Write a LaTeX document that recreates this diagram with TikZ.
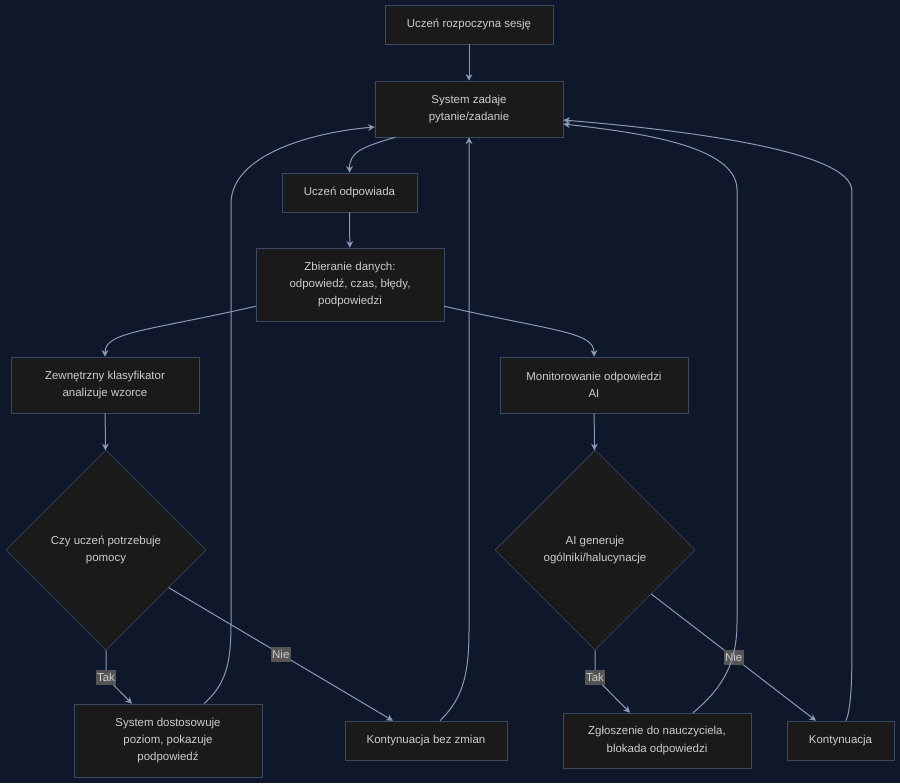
\documentclass[tikz,border=0pt]{standalone}
\usepackage{fontspec}
\setmainfont{Liberation Sans}
\usepackage{xcolor}
\usetikzlibrary{arrows.meta,shapes.geometric}

\definecolor{bgnavy}{HTML}{0F172A}
\definecolor{boxfill}{HTML}{1A1A1A}
\definecolor{boxline}{HTML}{3B4A63}
\definecolor{edgecol}{HTML}{8A9AB6}
\definecolor{txtcol}{HTML}{CCCCCC}
\definecolor{lblfill}{HTML}{555555}
\newcommand{\boxfont}{\fontsize{8.6}{13.1}\selectfont}

\begin{document}
\begin{tikzpicture}[x=0.75pt,y=-0.75pt,
  box/.style={draw=boxline,fill=boxfill,text=txtcol,align=center,inner sep=0pt,font=\boxfont},
  choice/.style={diamond,aspect=1,draw=boxline,fill=boxfill,text=txtcol,align=center,
    inner sep=0pt,minimum width=150pt,minimum height=150pt,font=\boxfont},
  edge/.style={draw=edgecol,line width=0.75pt,-{Stealth[length=5pt,width=5pt]}},
  lbl/.style={fill=lblfill,text=txtcol,inner xsep=1pt,inner ysep=2.4pt,font=\boxfont}]

  % background and size
  \fill[bgnavy] (0,0) rectangle (900,783);

  % main column
  \node[box,minimum width=126pt,minimum height=29.25pt] (start) at (469,24.5) {Uczeń rozpoczyna sesję};
  \node[box,minimum width=141pt,minimum height=42pt] (ask) at (469,109) {System zadaje\\pytanie/zadanie};
  \node[box,minimum width=101.25pt,minimum height=29.25pt] (answer) at (349.5,192.5) {Uczeń odpowiada};
  \node[box,minimum width=141pt,minimum height=54.75pt] (collect) at (350,284.5) {Zbieranie danych:\\odpowiedź, czas, błędy,\\podpowiedzi};

  % left branch
  \node[box,minimum width=141pt,minimum height=42pt] (classify) at (105,385) {Zewnętrzny klasyfikator\\analizuje wzorce};
  \node[choice] (needhelp) at (106,550) {Czy uczeń potrzebuje\\pomocy};
  \node[box,minimum width=141pt,minimum height=54.75pt] (adapt) at (168,740.5) {System dostosowuje\\poziom, pokazuje\\podpowiedź};
  \node[box,minimum width=121.5pt,minimum height=29.25pt] (keepgo) at (426,740.5) {Kontynuacja bez zmian};

  % right branch
  \node[box,minimum width=141pt,minimum height=42pt] (monitor) at (594,385) {Monitorowanie odpowiedzi\\AI};
  \node[choice] (vague) at (595,550) {AI generuje\\ogólniki/halucynacje};
  \node[box,minimum width=141pt,minimum height=41.25pt] (report) at (657,740.5) {Zgłoszenie do nauczyciela,\\blokada odpowiedzi};
  \node[box,minimum width=80.25pt,minimum height=29.25pt] (goon) at (840.5,740.5) {Kontynuacja};

  % forward edges
  \draw[edge] (start) -- (ask);
  \draw[edge] (ask.201) .. controls +(-35,10) and +(0,-20) .. (answer.north);
  \draw[edge] (answer) -- (collect);
  \draw[edge] (collect.193) .. controls +(-110,25) and +(0,-25) .. (classify.north);
  \draw[edge] (collect.-13) .. controls +(110,25) and +(0,-25) .. (monitor.north);
  \draw[edge] (classify) -- (needhelp);
  \draw[edge] (monitor) -- (vague);

  % decisions
  \draw[edge] (needhelp.south) -- ++(0,27) node[lbl] {Tak} -- ([xshift=-27pt]adapt.north);
  \draw[edge] (needhelp.-31) -- node[lbl] {Nie} ([xshift=-24.75pt]keepgo.north);
  \draw[edge] (vague.south) -- ++(0,27) node[lbl] {Tak} -- ([xshift=-20.25pt]report.north);
  \draw[edge] (vague.-38) -- node[lbl] {Nie} ([xshift=-18.4pt]goon.north);

  % back to the question
  \draw[edge] ([xshift=27pt]adapt.north) .. controls +(22,-20) and +(0,40) .. ++(27,-80)
    -- ++(0,-420) .. controls +(0,-50) and +(-60,5) .. ([yshift=-13.5pt]ask.west);
  \draw[edge] ([xshift=10.5pt]keepgo.north) .. controls +(20,-20) and +(0,50) .. ++(29,-90)
    -- (ask.south);
  \draw[edge] ([xshift=27pt]report.north) .. controls +(30,-25) and +(0,40) .. ++(44,-90)
    -- ++(0,-433) .. controls +(0,-45) and +(70,8) .. ([yshift=-11.25pt]ask.east);
  \draw[edge] ([xshift=4pt]goon.north) .. controls +(5,-10) and +(0,20) .. ++(6,-60)
    -- ++(0,-470) .. controls +(0,-40) and +(120,10) .. ([yshift=-8.25pt]ask.east);
\end{tikzpicture}
\end{document}
